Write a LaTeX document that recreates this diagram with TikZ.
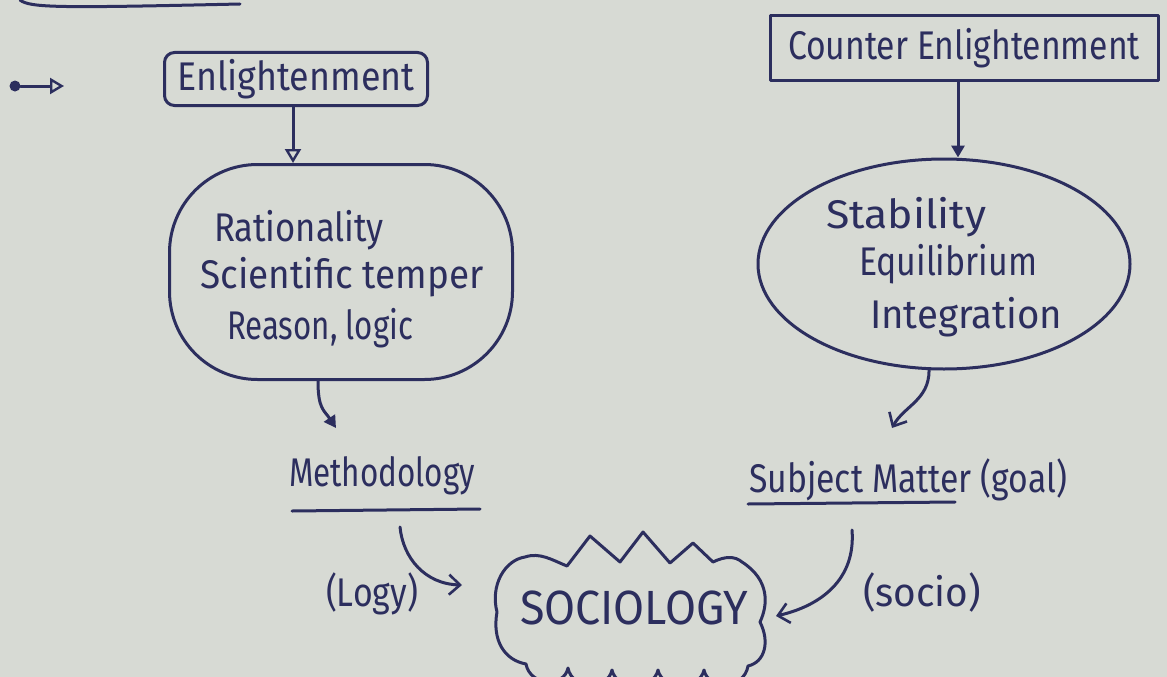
\documentclass[tikz,border=0pt]{standalone}
\usepackage{fontspec}
\setmainfont{Fira Sans}
\usetikzlibrary{arrows.meta,shapes.geometric,calc}
\definecolor{paper}{RGB}{215,218,212}
\definecolor{ink}{RGB}{44,46,94}
\newcommand{\tw}[2]{\resizebox{#1}{\height}{#2}}
\begin{document}
\begin{tikzpicture}[x=1pt,y=-1pt, line cap=round, line join=round,
  pen/.style={draw=ink, line width=3pt},
  txt/.style={text=ink, inner sep=0pt, font=\fontsize{40}{46}\selectfont},
  openhead/.style={pen, -{Triangle[open,length=14pt,width=16pt,line width=2.4pt]}},
  fillhead/.style={pen, -{Triangle[length=12pt,width=13pt]}},
  veehead/.style={pen, -{Straight Barb[length=11pt,width=20pt,line width=2.6pt]}}]
\fill[paper] (0,0) rectangle (1167,677);
\useasboundingbox (0,0) rectangle (1167,677);

% remnant of a box at the top edge
\draw[pen] (20,0) .. controls (30,8) and (60,8) .. (240,4);

% bullet arrow
\node[circle, fill=ink, inner sep=0pt, minimum size=11pt] (dot) at (15,86) {};
\coordinate (dotend) at (64,86);
\draw[openhead] (dot) -- (dotend);

% top boxes
\node[pen, rounded corners=10pt, minimum width=263pt, minimum height=53pt, txt] (enl) at (296,79) {\tw{237pt}{Enlightenment}};
\node[pen, minimum width=388pt, minimum height=64pt, txt] (cen) at (964,48) {\tw{352pt}{Counter Enlightenment}};

% blobs
\node[pen, rounded corners=88pt, minimum width=343pt, minimum height=215pt] (blobL) at (341,272) {};
\node[pen, ellipse, minimum width=372pt, minimum height=210pt] (blobR) at (944,264) {};

\node[txt] (r1) at (299,230) {\tw{170pt}{Rationality}};
\node[txt] (r2) at (342,277) {\tw{283pt}{Scientific temper}};
\node[txt] (r3) at (320,328) {\tw{186pt}{Reason, logic}};
\node[txt] (s1) at (906,217) {\tw{160pt}{Stability}};
\node[txt] (s2) at (948,264) {\tw{178pt}{Equilibrium}};
\node[txt] (s3) at (966,317) {\tw{192pt}{Integration}};

% down arrows
\draw[openhead] ([xshift=-3pt]enl.south) -- ([xshift=-3pt]enl.south |- blobL.north);
\draw[fillhead] ([xshift=-6pt]cen.south) -- ([xshift=-6pt]cen.south |- blobR.north);

% middle labels
\node[txt] (meth) at (382,476) {\tw{186pt}{Methodology}};
\draw[pen] (292,511) -- (480,509);
\node[txt] (subj) at (908,480) {\tw{318pt}{Subject Matter (goal)}};
\draw[pen] (748,504) -- (955,502);

\coordinate (mtop) at (336,428);
\draw[fillhead] ([xshift=-23pt]blobL.south) .. controls +(0,28) and +(-12,-18) .. (mtop);
\coordinate (stop) at (892,428);
\draw[veehead] (blobR.262) .. controls +(0,30) and +(12,-22) .. (stop);

% sociology cloud
\node[txt, font=\fontsize{48}{54}\selectfont] (soc) at (634,608) {\tw{228pt}{SOCIOLOGY}};
\draw[pen] (497,612) .. controls (490,585) and (505,560) .. (525,557)
  .. controls (540,552) and (552,560) .. (567,566) -- (590,536) -- (620,562) -- (643,532)
  -- (670,563) -- (693,543) -- (713,562)
  .. controls (725,556) and (735,556) .. (742,562)
  .. controls (770,580) and (768,605) .. (760,622)
  .. controls (770,642) and (765,662) .. (748,666)
  .. controls (744,690) and (708,690) .. (704,670)
  .. controls (700,690) and (662,690) .. (658,670)
  .. controls (654,690) and (616,690) .. (612,670)
  .. controls (608,690) and (572,690) .. (568,668)
  .. controls (564,688) and (530,686) .. (526,664)
  .. controls (504,660) and (492,640) .. (497,612);

% arrows into sociology
\node[txt] (logy) at (372,594) {\tw{92pt}{(Logy)}};
\node[txt] (socio) at (922,592) {\tw{118pt}{(socio)}};
\coordinate (la) at (400,527);
\coordinate (lb) at (462,585);
\draw[veehead] (la) .. controls (403,558) and (425,584) .. (lb);
\coordinate (sa) at (852,530);
\coordinate (sb) at (776,616);
\draw[veehead] (sa) .. controls (856,580) and (820,606) .. (sb);
\end{tikzpicture}
\end{document}
